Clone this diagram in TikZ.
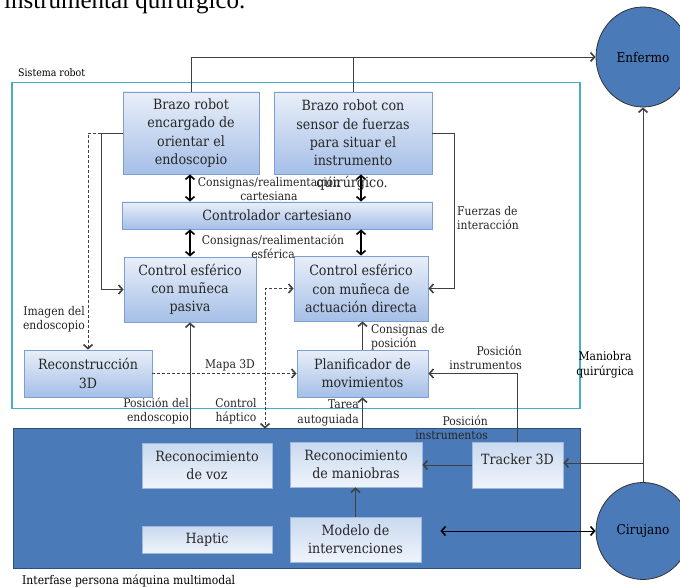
\documentclass[tikz,border=0pt]{standalone}
\usepackage{fontspec}
\setmainfont{DejaVu Serif Condensed}
\newfontfamily\timesfont{Liberation Serif}
\usetikzlibrary{arrows.meta,shapes.geometric}

\definecolor{boxtop}{HTML}{E9EFF9}
\definecolor{boxbot}{HTML}{A5BFE7}
\definecolor{boxline}{HTML}{7C9ED3}
\definecolor{itop}{HTML}{C9D9EF}
\definecolor{ibot}{HTML}{EFF4FB}
\definecolor{iline}{HTML}{A0B8DA}
\definecolor{panel}{HTML}{4A7AB7}
\definecolor{panelline}{HTML}{2F4F7A}
\definecolor{cyanframe}{HTML}{4BACC6}
\definecolor{ink}{HTML}{262626}
\definecolor{wire}{HTML}{404040}

\tikzset{
  block/.style={draw=boxline, line width=0.8pt, top color=boxtop, bottom color=boxbot,
    text=ink, align=center, font=\fontsize{14.1}{18.3}\selectfont, inner sep=2pt},
  iblock/.style={draw=iline, line width=0.8pt, top color=itop, bottom color=ibot,
    text=ink, align=center, font=\fontsize{14.1}{18.3}\selectfont, inner sep=2pt},
  actor/.style={ellipse, draw=black!80, line width=0.8pt, fill=panel, text=black,
    font=\fontsize{13.5}{16}\selectfont},
  lbl/.style={text=ink, font=\fontsize{12}{14.5}\selectfont, inner sep=0pt},
  tip/.style={-{Straight Barb[length=4pt,width=9pt,line width=1.6pt]}},
  conn/.style={draw=wire, line width=0.9pt, tip},
  plain/.style={draw=wire, line width=0.9pt},
  dconn/.style={draw=wire, line width=0.9pt, dashed, dash pattern=on 3pt off 2pt, tip},
  dbl/.style={draw=black, line width=1.6pt,
    {Straight Barb[length=4pt,width=9pt,line width=1.6pt]}-{Straight Barb[length=4pt,width=9pt,line width=1.6pt]}},
}

\begin{document}
\begin{tikzpicture}[x=1pt,y=-1pt]
\useasboundingbox (0,0) rectangle (680,588);
\clip (0,0) rectangle (680,588);
\fill[white] (0,0) rectangle (680,588);

% running text of the page above
\node[anchor=base west, inner sep=0pt, font=\timesfont\fontsize{25}{27}\selectfont, text=black]
  (pagetext) at (4,9) {instrumental quirúrgico.};

% frames
\node[draw=cyanframe, line width=1.8pt, minimum width=568, minimum height=326, inner sep=0pt]
  (robot) at (296,245.5) {};
\node[anchor=base west, inner sep=0pt, text=black, font=\fontsize{10.5}{12}\selectfont]
  (robotlbl) at (18,77) {Sistema robot};
\node[draw=panelline, line width=0.8pt, fill=panel, minimum width=567, minimum height=140, inner sep=0pt]
  (iface) at (296.5,498) {};
\node[anchor=base west, inner sep=0pt, text=black, font=\fontsize{12}{14}\selectfont]
  (ifacelbl) at (22,584.5) {Interfase persona máquina multimodal};

% actors
\node[actor, minimum width=94, minimum height=100] (enfermo) at (643,57) {Enfermo};
\node[actor, minimum width=94, minimum height=97] (cirujano) at (643,531) {Cirujano};

% robot system blocks
\node[block, minimum width=136, minimum height=82] (brazoA) at (191,133)
  {Brazo robot\\encargado de\\orientar el\\endoscopio};
\node[block, minimum width=158, minimum height=82] (brazoB) at (353,133)
  {Brazo robot con\\sensor de fuerzas\\para situar el\\instrumento};
\node[block, minimum width=310, minimum height=27] (ctrlcart) at (277,215.5)
  {Controlador cartesiano};
\node[block, minimum width=132, minimum height=65] (pasiva) at (190,289.5)
  {Control esférico\\con muñeca\\pasiva};
\node[block, minimum width=134, minimum height=65] (directa) at (361,288.5)
  {Control esférico\\con muñeca de\\actuación directa};
\node[block, minimum width=128, minimum height=47] (recon) at (88,373.5)
  {Reconstrucción\\3D};
\node[block, minimum width=131, minimum height=47] (planif) at (362.5,373.5)
  {Planificador de\\movimientos};

% interface blocks
\node[iblock, minimum width=130, minimum height=45] (voz) at (207,465.5)
  {Reconocimiento\\de voz};
\node[iblock, minimum width=132, minimum height=45] (maniobras) at (356,464.5)
  {Reconocimiento\\de maniobras};
\node[iblock, minimum width=91, minimum height=46, text depth=12pt] (tracker) at (517.5,465)
  {Tracker 3D};
\node[iblock, minimum width=130, minimum height=27] (haptic) at (207,539.5)
  {Haptic};
\node[iblock, minimum width=131, minimum height=45] (modelo) at (355.5,539.5)
  {Modelo de\\intervenciones};

% junction points
\coordinate (jA) at (101,133);
\coordinate (jB) at (88,133);
\coordinate (jC) at (454,133);
\coordinate (hx) at (265,288.5);
\coordinate (jD) at (643,463);

% connectors
\draw[conn] (brazoA.north) |- (enfermo.west);
\draw[plain] (brazoB.north) -- (brazoB.north |- enfermo.west);

\draw[dbl] (brazoA.south -| pasiva.north) -- (ctrlcart.north -| pasiva.north);
\draw[dbl] (ctrlcart.south -| pasiva.north) -- (pasiva.north);
\draw[dbl] (brazoB.south -| directa.north) -- (ctrlcart.north -| directa.north);
\draw[dbl] (ctrlcart.south -| directa.north) -- (directa.north);

\draw[conn] (brazoA.west) -- (jA) |- (pasiva.west);
\draw[dconn] (jA) -- (jB) -- (recon.north);
\draw[conn] (brazoB.east) -- (jC) |- (directa.east);
\draw[conn] (planif.north) -- (planif.north |- directa.south);
\draw[dconn] (recon.east) -- (planif.west);
\draw[dconn, {Straight Barb[length=4pt,width=9pt,line width=1.6pt]}-{Straight Barb[length=4pt,width=9pt,line width=1.6pt]}]
  (directa.west) -- (hx) -- ([yshift=-1pt]hx |- iface.north);
\draw[conn] (iface.north -| pasiva.south) -- (pasiva.south);
\draw[conn] (iface.north -| planif.south) -- (planif.south);
\draw[conn] (tracker.north) |- (planif.east);
\draw[conn] (tracker.west) -- (tracker.west -| maniobras.east);
\draw[conn] (modelo.north) -- (modelo.north |- maniobras.south);
\draw[dbl, draw=black, line width=1pt] ([xshift=19pt]modelo.east |- cirujano.west) -- (cirujano.west);
\draw[conn] (cirujano.north) -- (enfermo.south);
\draw[conn] (jD) -- (jD -| tracker.east);

% connector labels
\node[lbl, align=center] (lcart) at (269,189) {Consignas/realimentación\\cartesiana};
\node[lbl, align=center] (lover) at (352,183) {\fontsize{14.1}{18}\selectfont quirúrgico.};
\node[lbl, align=center] (lesf) at (273,247) {Consignas/realimentación\\esférica};
\node[lbl, align=right, anchor=east] (limg) at (85,319) {Imagen del\\endoscopio};
\node[lbl, align=left, anchor=west] (lfuer) at (457,218) {Fuerzas de\\interacción};
\node[lbl, align=left, anchor=west] (lcons) at (371,337) {Consignas de\\posición};
\node[lbl] (lmapa) at (230,365) {Mapa 3D};
\node[lbl, align=center] (lhap) at (236,411) {Control\\háptico};
\node[lbl, align=right, anchor=east] (lendo) at (189,411) {Posición del\\endoscopio};
\node[lbl, align=right, anchor=east] (ltarea) at (359,413) {Tarea\\autoguiada};
\node[lbl, align=right, anchor=east] (lpos1) at (522,358) {Posición\\instrumentos};
\node[lbl, align=right, anchor=east] (lpos2) at (488,428) {Posición\\instrumentos};
\node[lbl, align=center, text=black] (lman) at (605,365) {Maniobra\\quirúrgica};
\end{tikzpicture}
\end{document}
